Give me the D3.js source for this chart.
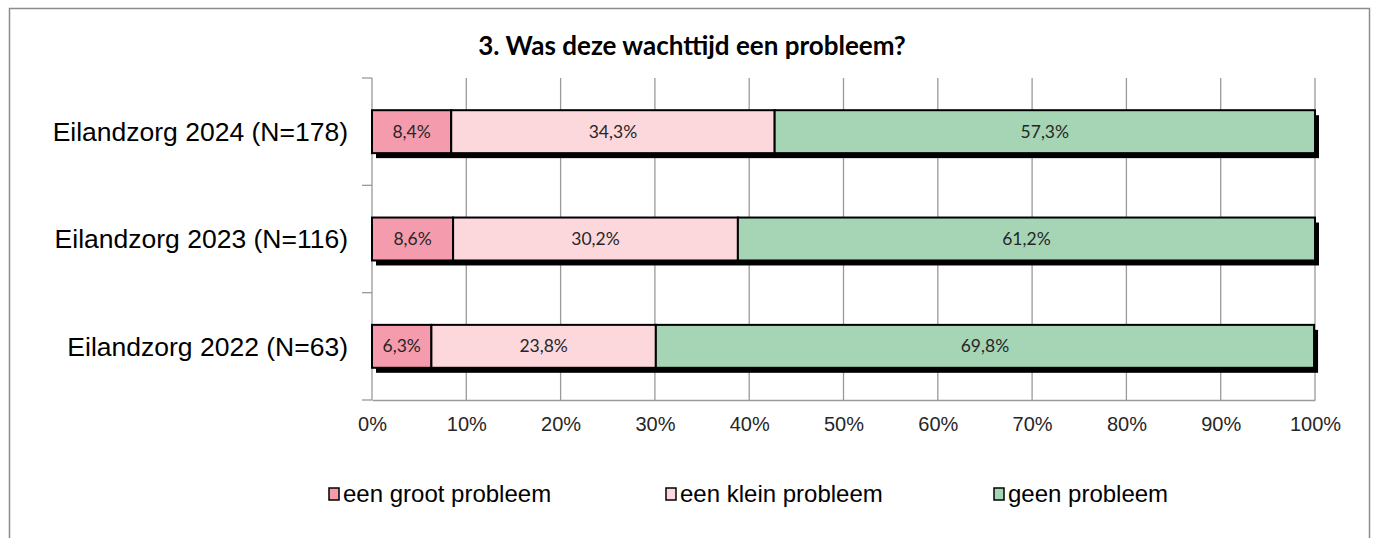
<!DOCTYPE html>
<html>
<head>
<meta charset="utf-8">
<script src="https://cdn.jsdelivr.net/npm/d3@7"></script>
<style>
  body { margin: 0; background: #fff; }
  svg { display: block; }
</style>
</head>
<body>
<script>
// data
const categories = ['Eilandzorg 2024 (N=178)', 'Eilandzorg 2023 (N=116)', 'Eilandzorg 2022 (N=63)'];
const seriesNames = ['een groot probleem', 'een klein probleem', 'geen probleem'];
const grootValues = [8.4, 8.6, 6.3];
const kleinValues = [34.3, 30.2, 23.8];
const geenValues = [57.3, 61.2, 69.8];
const tickValues = [0, 10, 20, 30, 40, 50, 60, 70, 80, 90, 100];
const colors = ['#F49CAE', '#FCD8DD', '#A6D5B6'];

const W = 1377, H = 538;
const margin = { top: 78, right: 62, bottom: 138, left: 372 };
const width = W - margin.left - margin.right;
const height = H - margin.top - margin.bottom;

const svg = d3.select('body').append('svg')
  .attr('width', W)
  .attr('height', H);

// outer frame
svg.append('rect')
  .attr('x', 9.5).attr('y', 8.5)
  .attr('width', 1360).attr('height', 540)
  .attr('fill', '#fff')
  .attr('stroke', '#8c8c8c')
  .attr('stroke-width', 1.5);

// title
svg.append('text')
  .attr('x', 692).attr('y', 55)
  .attr('text-anchor', 'middle')
  .style('font-family', 'Lato, "Open Sans", sans-serif')
  .style('font-weight', 'bold')
  .style('font-size', '26px')
  .style('fill', '#000')
  .text('3. Was deze wachttijd een probleem?');

const g = svg.append('g')
  .attr('transform', `translate(${margin.left},${margin.top})`);

const x = d3.scaleLinear().domain([0, 100]).range([0, width]);
const y = d3.scaleBand().domain(categories).range([0, height]).paddingInner(0.6).paddingOuter(0.3);

// gridlines
g.append('g')
  .selectAll('line')
  .data(tickValues.slice(1))
  .join('line')
  .attr('x1', d => x(d)).attr('x2', d => x(d))
  .attr('y1', 0).attr('y2', height)
  .attr('stroke', '#9a9a9a')
  .attr('stroke-width', 1.3);

// x axis
const xAxis = g.append('g')
  .attr('transform', `translate(0,${height})`)
  .call(d3.axisBottom(x).tickValues(tickValues).tickFormat(d => d + '%').tickSize(0).tickPadding(17));
xAxis.select('.domain').attr('stroke', '#9a9a9a').attr('stroke-width', 1.3);
xAxis.selectAll('text')
  .style('font-family', '"Liberation Sans", Arial, sans-serif')
  .style('font-size', '20px')
  .style('fill', '#262626');

// y axis
const bandStep = height / categories.length;
const yAxis = g.append('g');
yAxis.append('line')
  .attr('x1', 0).attr('x2', 0).attr('y1', 0).attr('y2', height)
  .attr('stroke', '#9a9a9a').attr('stroke-width', 1.3);
yAxis.selectAll('line.tk')
  .data(d3.range(categories.length + 1))
  .join('line')
  .attr('class', 'tk')
  .attr('x1', -10).attr('x2', 0)
  .attr('y1', d => d * bandStep).attr('y2', d => d * bandStep)
  .attr('stroke', '#9a9a9a').attr('stroke-width', 1.3);
yAxis.selectAll('text')
  .data(categories)
  .join('text')
  .attr('x', -24)
  .attr('y', d => y(d) + y.bandwidth() / 2)
  .attr('dy', '0.35em')
  .attr('text-anchor', 'end')
  .style('font-family', '"Liberation Sans", Arial, sans-serif')
  .style('font-size', '26.5px')
  .style('fill', '#000')
  .text(d => d);

// stacked data
const rows = categories.map((c, i) => ({
  cat: c,
  groot: grootValues[i],
  klein: kleinValues[i],
  geen: geenValues[i],
}));
const stack = d3.stack().keys(['groot', 'klein', 'geen']);
const layers = stack(rows);

// shadows
g.append('g')
  .selectAll('rect')
  .data(rows)
  .join('rect')
  .attr('x', x(0) + 4)
  .attr('y', d => y(d.cat) + 5)
  .attr('width', d => x(d.groot + d.klein + d.geen) - x(0))
  .attr('height', y.bandwidth())
  .attr('fill', '#000');

// bars
layers.forEach((layer, li) => {
  const lg = g.append('g');
  lg.selectAll('rect')
    .data(layer)
    .join('rect')
    .attr('x', d => x(d[0]))
    .attr('y', d => y(d.data.cat))
    .attr('width', d => x(d[1]) - x(d[0]))
    .attr('height', y.bandwidth())
    .attr('fill', colors[li])
    .attr('stroke', '#000')
    .attr('stroke-width', 2);
  lg.selectAll('text')
    .data(layer)
    .join('text')
    .attr('x', d => (x(d[0]) + x(d[1])) / 2)
    .attr('y', d => y(d.data.cat) + y.bandwidth() / 2)
    .attr('dy', '0.35em')
    .attr('text-anchor', 'middle')
    .style('font-family', 'Lato, "Open Sans", sans-serif')
    .style('font-size', '17.5px')
    .style('fill', '#262626')
    .text(d => d3.format('.1f')(d[1] - d[0]).replace('.', ',') + '%');
});

// legend
const legendX = [343, 680, 1008];
const legend = svg.append('g');
seriesNames.forEach((name, i) => {
  legend.append('rect')
    .attr('x', legendX[i] - 14).attr('y', 488)
    .attr('width', 10).attr('height', 12)
    .attr('fill', colors[i])
    .attr('stroke', '#000')
    .attr('stroke-width', 1.5);
  legend.append('text')
    .attr('x', legendX[i]).attr('y', 494)
    .attr('dy', '0.35em')
    .style('font-family', '"Liberation Sans", Arial, sans-serif')
    .style('font-size', '24px')
    .style('fill', '#000')
    .text(name);
});
</script>
</body>
</html>
